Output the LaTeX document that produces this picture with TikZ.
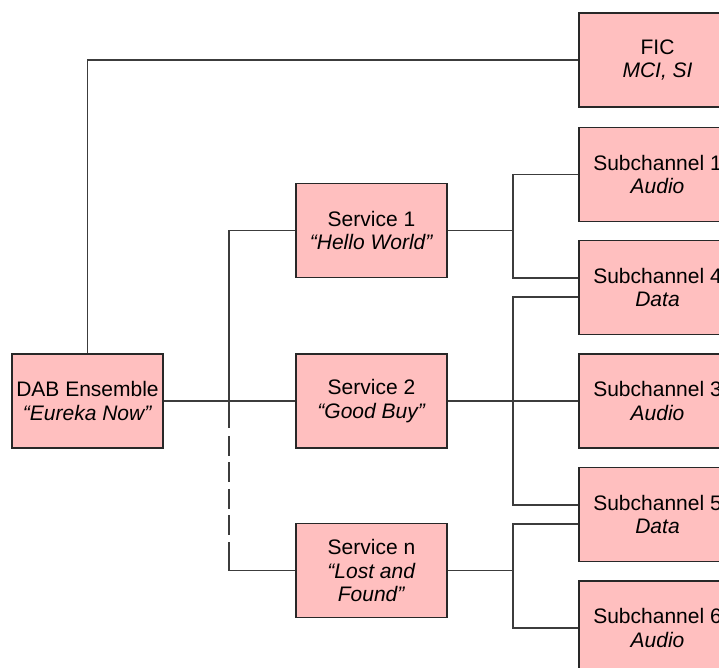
\documentclass[tikz,border=0pt]{standalone}
\usepackage{fontspec}
\setmainfont{Liberation Sans}
\usetikzlibrary{calc}
\definecolor{boxpink}{RGB}{255,191,191}
\definecolor{boxedge}{RGB}{40,40,40}
\definecolor{linegray}{RGB}{60,60,60}
\begin{document}
\begin{tikzpicture}[x=1pt,y=-1pt,
  box/.style={draw=boxedge, fill=boxpink, line width=1.3pt, minimum width=151pt,
    minimum height=94pt, align=center, inner sep=0pt,
    font=\fontsize{21}{23.5}\selectfont},
  widebox/.style={box, minimum width=157pt},
  conn/.style={draw=linegray, line width=1.2pt},
  dashedconn/.style={conn, dash pattern=on 19.75pt off 6.67pt}]
\useasboundingbox (0,0) rectangle (719,668);
% nodes
\node[box] (dab) at (87.5,401) {DAB Ensemble\\\textit{“Eureka Now”}};
\node[box] (s1) at (371.5,230.5) {Service 1\\\textit{“Hello World”}};
\node[box] (s2) at (371.5,401) {Service 2\\\textit{“Good Buy”}};
\node[box] (sn) at (371.5,570.5) {Service n\\\textit{“Lost and}\\\textit{Found”}};
\node[widebox] (fic) at (657.5,60) {FIC\\\textit{MCI, SI}};
\node[widebox] (sub1) at (657.5,174.5) {Subchannel 1\\\textit{Audio}};
\node[widebox] (sub4) at (657.5,287.5) {Subchannel 4\\\textit{Data}};
\node[widebox] (sub3) at (657.5,401) {Subchannel 3\\\textit{Audio}};
\node[widebox] (sub5) at (657.5,514.5) {Subchannel 5\\\textit{Data}};
\node[widebox] (sub6) at (657.5,628) {Subchannel 6\\\textit{Audio}};
% helper coordinates
\coordinate (vt) at (229,428);
\coordinate (vd1) at (229,436);
\coordinate (vd2) at (229,535);
\coordinate (vb) at (229,542);
\coordinate (j1) at (513,230.5);
\coordinate (j2) at (513,401);
\coordinate (j3) at (513,570.5);
\coordinate (s4a) at ($(sub4.west)+(0,-9.5)$);
\coordinate (s4b) at ($(sub4.west)+(0,9.5)$);
\coordinate (s5a) at ($(sub5.west)+(0,-9.5)$);
\coordinate (s5b) at ($(sub5.west)+(0,9.5)$);
% connectors
\draw[conn] (dab.north) |- (fic.west);
\draw[conn] (dab.east) -- (s2.west);
\draw[conn] (s1.west) -| (vt);
\draw[dashedconn] (vd1) -- (vd2);
\draw[conn] (vb) |- (sn.west);
\draw[conn] (s1.east) -- (j1);
\draw[conn] (sub1.west) -| (j1) |- (s4a);
\draw[conn] (s2.east) -- (sub3.west);
\draw[conn] (s4b) -| (j2) |- (s5a);
\draw[conn] (sn.east) -- (j3);
\draw[conn] (s5b) -| (j3) |- (sub6.west);
\end{tikzpicture}
\end{document}
